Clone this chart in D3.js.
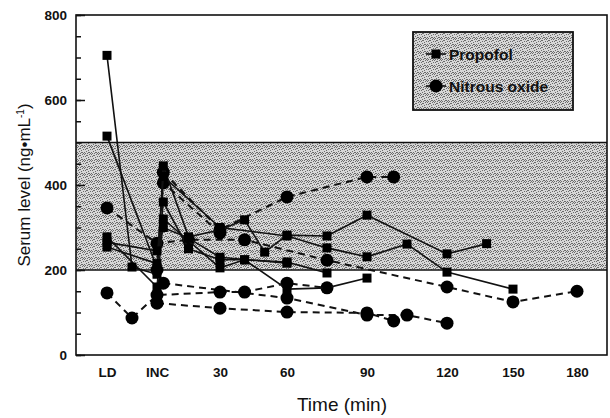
<!DOCTYPE html>
<html>
<head>
<meta charset="utf-8">
<script src="https://cdn.jsdelivr.net/npm/d3@7"></script>
<style>
  body { margin: 0; background: #fff; }
  svg { display: block; font-family: "Liberation Sans", Arial, sans-serif; }
</style>
</head>
<body>
<div id="chart"></div>
<script>
// axis ticks (LD = loading dose, INC = incision; placed before time 0 / at 0)
const tickTimes = [-20, 0, 30, 60, 90, 120, 150, 180];
const tickLabels = ["LD", "INC", "30", "60", "90", "120", "150", "180"];
const yTicks = [0, 200, 400, 600, 800];
const bandLevels = [200, 500];   // shaded therapeutic range

// propofol patients (time, serum level)
const propofol1 = [[-20, 705], [-10, 207], [0, 190], [3, 445], [15, 278], [30, 294], [41, 318], [50, 242], [60, 282], [75, 280], [90, 329], [120, 238], [138, 262]];
const propofol2 = [[-20, 515], [0, 205], [3, 360], [15, 250], [30, 224], [41, 224], [60, 219], [75, 193]];
const propofol3 = [[-20, 278], [0, 160], [3, 320], [30, 205], [41, 224], [60, 155], [75, 158], [90, 181]];
const propofol4 = [[-20, 254], [0, 215], [3, 420], [30, 300], [60, 280], [75, 252], [90, 231], [105, 261], [120, 195], [150, 155]];
const propofol5 = [[-20, 265], [0, 245], [3, 300], [15, 275], [30, 230], [60, 216]];

// nitrous oxide patients
const nitrous1 = [[3, 430], [30, 295], [60, 372], [90, 419], [100, 419]];
const nitrous2 = [[-20, 146], [-10, 87], [0, 141], [30, 148], [41, 148], [60, 169], [75, 158]];
const nitrous3 = [[-20, 346], [0, 263], [15, 271], [41, 271], [75, 223], [120, 160], [150, 125], [180, 150]];
const nitrous4 = [[0, 122], [30, 110], [60, 101], [90, 99], [100, 80]];
const nitrous5 = [[3, 169], [60, 134], [90, 94], [105, 94], [120, 75]];
const nitrous6 = [[0, 200], [3, 405], [30, 287]];

const propofolSeries = [propofol1, propofol2, propofol3, propofol4, propofol5];
const nitrousSeries = [nitrous1, nitrous2, nitrous3, nitrous4, nitrous5, nitrous6];

const W = 610, H = 418;
const plot = { left: 76, right: 607, top: 15, bottom: 355 };

const svg = d3.select("#chart").append("svg")
    .attr("width", W).attr("height", H);

// stippled grey screen like the print
const defs = svg.append("defs");
const pat = defs.append("pattern")
    .attr("id", "screen").attr("patternUnits", "userSpaceOnUse")
    .attr("width", 7).attr("height", 7);
pat.append("rect").attr("width", 7).attr("height", 7).attr("fill", "#d6d6d6");
const dots = [[0, 0], [3, 1], [5, 0], [1, 2], [4, 3], [6, 2], [2, 4], [0, 5], [5, 5], [3, 6], [6, 6], [1, 6], [2, 1], [4, 5]];
dots.forEach(p => {
    pat.append("rect").attr("x", p[0]).attr("y", p[1]).attr("width", 1).attr("height", 1).attr("fill", "#6a6a6a");
});

// x positions of the time points are not evenly spaced in the original
const x = d3.scaleLinear()
    .domain(tickTimes)
    .range([107, 157, 220, 287, 367, 447, 513, 577]);

const y = d3.scaleLinear()
    .domain([0, 800])
    .range([plot.bottom, plot.top]);

// shaded band
svg.append("rect")
    .attr("x", plot.left).attr("width", plot.right - plot.left)
    .attr("y", y(bandLevels[1])).attr("height", y(bandLevels[0]) - y(bandLevels[1]))
    .attr("fill", "url(#screen)")
    .attr("shape-rendering", "crispEdges");
svg.selectAll(".bandline")
    .data(bandLevels)
    .enter().append("line")
    .attr("x1", plot.left).attr("x2", plot.right)
    .attr("y1", d => y(d)).attr("y2", d => y(d))
    .attr("stroke", "#111").attr("stroke-width", 1.6);

// frame
svg.append("rect")
    .attr("x", plot.left).attr("y", plot.top)
    .attr("width", plot.right - plot.left).attr("height", plot.bottom - plot.top)
    .attr("fill", "none").attr("stroke", "#111").attr("stroke-width", 1.6);

// y axis with inward ticks
const yMinor = d3.range(0, 801, 50);
svg.append("g")
    .attr("transform", `translate(${plot.left},0)`)
    .call(d3.axisRight(y).tickValues(yMinor).tickSize(5).tickFormat(""))
    .call(g => g.select(".domain").remove())
    .selectAll("line").attr("stroke", "#111").attr("stroke-width", 1.5);
svg.append("g")
    .attr("transform", `translate(${plot.left},0)`)
    .call(d3.axisRight(y).tickValues(yTicks).tickSize(9).tickFormat(""))
    .call(g => g.select(".domain").remove())
    .selectAll("line").attr("stroke", "#111").attr("stroke-width", 1.5);
svg.append("g")
    .attr("transform", `translate(${plot.left},0)`)
    .call(d3.axisLeft(y).tickValues(yTicks).tickSize(0).tickPadding(9))
    .call(g => g.select(".domain").remove())
    .selectAll("text")
    .style("font-size", "13.5px").style("font-weight", "bold")
    .style("font-family", "Liberation Sans, Arial, sans-serif").attr("fill", "#111");

// x axis labels (no tick marks)
svg.append("g")
    .attr("transform", `translate(0,${plot.bottom})`)
    .call(d3.axisBottom(x).tickValues(tickTimes).tickSize(0).tickPadding(12)
        .tickFormat((d, i) => tickLabels[i]))
    .call(g => g.select(".domain").remove())
    .selectAll("text")
    .style("font-size", "13.5px").style("font-weight", "bold")
    .style("font-family", "Liberation Sans, Arial, sans-serif").attr("fill", "#111");

const line = d3.line().x(d => x(d[0])).y(d => y(d[1]));

// nitrous oxide: dashed lines, circles
const gN = svg.append("g");
gN.selectAll("path")
    .data(nitrousSeries)
    .enter().append("path")
    .attr("d", line)
    .attr("fill", "none").attr("stroke", "#111")
    .attr("stroke-width", 2).attr("stroke-dasharray", "7,5");

// propofol: solid lines, squares
const gP = svg.append("g");
gP.selectAll("path")
    .data(propofolSeries)
    .enter().append("path")
    .attr("d", line)
    .attr("fill", "none").attr("stroke", "#111").attr("stroke-width", 1.6);

gN.selectAll("circle")
    .data(nitrousSeries.flat())
    .enter().append("circle")
    .attr("cx", d => x(d[0])).attr("cy", d => y(d[1]))
    .attr("r", 6.5).attr("fill", "#000");

gP.selectAll("rect")
    .data(propofolSeries.flat())
    .enter().append("rect")
    .attr("x", d => x(d[0]) - 4.5).attr("y", d => y(d[1]) - 4.5)
    .attr("width", 9).attr("height", 9).attr("fill", "#000");

// legend
const lg = svg.append("g").attr("transform", "translate(413,32)");
lg.append("rect")
    .attr("width", 160).attr("height", 78)
    .attr("fill", "url(#screen)").attr("stroke", "#111").attr("stroke-width", 1.8);
const legendItems = [
    { name: "Propofol", shape: "square" },
    { name: "Nitrous oxide", shape: "circle" }
];
legendItems.forEach((item, i) => {
    const row = lg.append("g").attr("transform", `translate(0,${22 + i * 32})`);
    row.append("line").attr("x1", 13).attr("x2", 33).attr("stroke", "#111").attr("stroke-width", 1.6);
    if (item.shape === "square") {
        row.append("rect").attr("x", 18.5).attr("y", -4.5).attr("width", 9).attr("height", 9).attr("fill", "#000");
    } else {
        row.append("circle").attr("cx", 23).attr("r", 6.5).attr("fill", "#000");
    }
    row.append("text")
        .attr("x", 36).attr("y", 5.5)
        .style("font-size", "15.5px").style("font-weight", "bold")
        .attr("fill", "#111")
        .text(item.name);
});

// axis titles
svg.append("text")
    .attr("x", 342).attr("y", 411)
    .attr("text-anchor", "middle")
    .style("font-size", "19px").attr("fill", "#111")
    .text("Time (min)");

const yt = svg.append("text")
    .attr("transform", "translate(30,185) rotate(-90)")
    .attr("text-anchor", "middle")
    .style("font-size", "17px").attr("fill", "#111");
yt.append("tspan").text("Serum level (ng\u2022mL");
yt.append("tspan").attr("dy", -6).style("font-size", "10px").text("-1");
yt.append("tspan").attr("dy", 6).text(")");
</script>
</body>
</html>
